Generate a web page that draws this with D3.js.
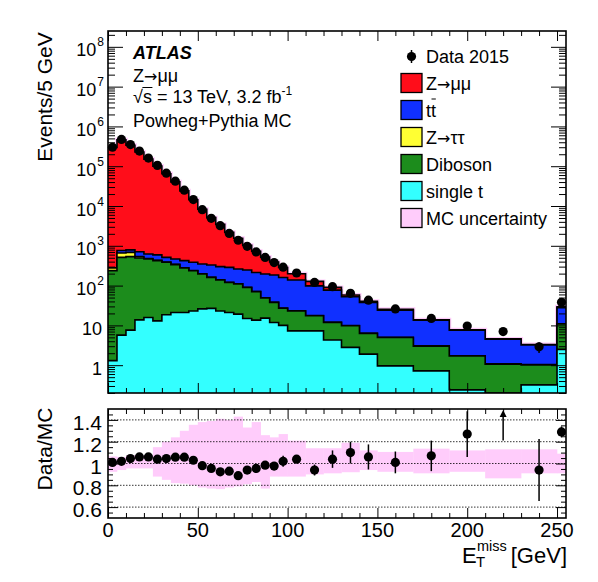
<!DOCTYPE html>
<html>
<head>
<meta charset="utf-8">
<script src="https://cdn.jsdelivr.net/npm/d3@7"></script>
<style>
  body { margin: 0; background: #fff; }
  text { font-family: "Liberation Sans", Arial, Helvetica, sans-serif; fill: #000; }
  .arrow { font-family: "DejaVu Sans", sans-serif; }
</style>
</head>
<body>
<svg id="chart" width="598" height="582"></svg>
<script>
// Bin edges (GeV), last bin is the overflow
const binEdges = [0,5,10,15,20,25,30,35,40,45,50,55,60,65,70,75,80,85,90,95,100,110,120,130,140,150,170,190,210,230,250,255];

// Events / 5 GeV
const dataCounts = [300000, 470000, 350000, 240000, 160000, 105000, 67000, 42000, 25000, 14500, 8100, 4900, 3200, 2050, 1380, 970, 700, 510, 380, 290, 207, 120, 94, 64, 43, 26, 15, 9.6, 7.0, 2.9, 38];
const zmumu = [296700, 460000, 335000, 226000, 150000, 100000, 64000, 40000, 23600, 14000, 7950, 4770, 3150, 1910, 1290, 783, 515, 325, 205, 125, 61, 29, 13, 5.5, 2.8, 1.2, 0.3, 0.1, 0.1, 0.05, 1.5];
const ttbar = [3, 100, 106, 175, 149, 158, 120, 124, 143, 145, 153, 167, 161, 166, 151, 156, 143, 146, 147, 133, 115, 81, 65, 42.6, 31.4, 19.2, 10.5, 5.9, 3.4, 2.2, 17.1];
const ztautau = [41, 147, 149, 40, 10, 8, 6, 5, 4, 3, 2, 1.5, 1, 1, 0.8, 0.6, 0.5, 0.4, 0.3, 0.2, 0.2, 0.1, 0.1, 0.1, 0.05, 0.05, 0.05, 0.02, 0.02, 0.02, 0.1];
const diboson = [236, 507, 527, 481, 450, 411, 367, 315, 256, 214, 169, 134, 115, 99, 91, 75, 57, 34, 26, 17, 15.7, 10.2, 7.6, 7.0, 4.4, 4.0, 2.3, 1.46, 0.96, 0.70, 8.3];
const singleTop = [1.3, 5.7, 7.6, 13.8, 15.8, 13, 18.5, 21, 21, 23, 26, 26.7, 23, 21, 19.2, 14.9, 13.6, 15.2, 11.8, 10, 7.3, 7.3, 4.3, 2.8, 1.9, 0.96, 0.72, 0.24, 0.1, 0.32, 2.5];

// Data/MC ratio panel
const ratio = [1.01, 1.02, 1.045, 1.06, 1.06, 1.04, 1.045, 1.058, 1.058, 1.03, 0.98, 0.955, 0.924, 0.93, 0.888, 0.94, 0.955, 0.985, 0.976, 1.02, 1.04, 0.94, 1.04, 1.10, 1.06, 1.01, 1.07, 1.27, 1.56, 0.94, 1.29];
const ratioErr = [0.003, 0.003, 0.003, 0.004, 0.005, 0.006, 0.007, 0.009, 0.011, 0.014, 0.018, 0.02, 0.025, 0.03, 0.035, 0.035, 0.04, 0.02, 0.03, 0.05, 0.025, 0.05, 0.08, 0.10, 0.115, 0.10, 0.14, 0.21, 0.35, 0.285, 0.05];
const bandHigh = [1.065, 1.06, 1.076, 1.076, 1.076, 1.15, 1.2, 1.24, 1.3, 1.355, 1.38, 1.39, 1.41, 1.40, 1.43, 1.33, 1.38, 1.26, 1.24, 1.27, 1.21, 1.14, 1.14, 1.19, 1.12, 1.106, 1.136, 1.12, 1.13, 1.13, 1.09];
const bandLow = [0.924, 0.94, 0.955, 0.955, 0.955, 0.88, 0.85, 0.82, 0.815, 0.8, 0.78, 0.77, 0.765, 0.78, 0.79, 0.81, 0.83, 0.77, 0.88, 0.88, 0.88, 0.90, 0.91, 0.92, 0.94, 0.924, 0.91, 0.924, 0.864, 0.91, 0.91];

// Axis ticks
const yTickPowers = [0, 1, 2, 3, 4, 5, 6, 7, 8];
const ratioTicks = [0.6, 0.8, 1, 1.2, 1.4];
const xTicks = [0, 50, 100, 150, 200, 250];

// legend entries: [before arrow, arrow?, after]
const legendItems = [
  { parts: ["Z", "\u2192", "\u03bc\u03bc"], color: "#ff0d1a" },
  { parts: ["tt"], color: "#1030ff", bar: true },
  { parts: ["Z", "\u2192", "\u03c4\u03c4"], color: "#ffff33" },
  { parts: ["Diboson"], color: "#1c8c1c" },
  { parts: ["single t"], color: "#33ffff" },
  { parts: ["MC uncertainty"], color: "#ffccfb" }
];

const svg = d3.select("#chart");
const mainL = 108, mainR = 566, mainT = 31, mainB = 393;
const ratT = 409, ratB = 518;
const pink = "#ffccfb";

const x = d3.scaleLinear().domain([0, 255]).range([mainL, mainR]);
const y = d3.scaleLog().domain([0.2, 2.5e8]).range([mainB, mainT]);
const yr = d3.scaleLinear().domain([0.5, 1.5]).range([ratB, ratT]);
const yc = v => y(Math.max(v, 0.2));

const nBins = dataCounts.length;
const centers = d3.range(nBins).map(i => (binEdges[i] + binEdges[i + 1]) / 2);

// clip paths
const defs = svg.append("defs");
defs.append("clipPath").attr("id", "clipMain").append("rect")
  .attr("x", mainL).attr("y", mainT).attr("width", mainR - mainL).attr("height", mainB - mainT);
defs.append("clipPath").attr("id", "clipRatio").append("rect")
  .attr("x", mainL).attr("y", ratT).attr("width", mainR - mainL).attr("height", ratB - ratT);

// ---------- stacked histogram ----------
const rows = d3.range(nBins).map(i => ({
  singleTop: singleTop[i], diboson: diboson[i], ztautau: ztautau[i], ttbar: ttbar[i], zmumu: zmumu[i]
}));
const keys = ["singleTop", "diboson", "ztautau", "ttbar", "zmumu"];
const colors = { singleTop: "#33ffff", diboson: "#1c8c1c", ztautau: "#ffff33", ttbar: "#1030ff", zmumu: "#ff0d1a" };
const stacked = d3.stack().keys(keys)(rows);

const stepPts = tops => tops.map((v, i) => [binEdges[i], v]).concat([[binEdges[nBins], tops[nBins - 1]]]);
const area = d3.area().x(d => x(d[0])).y0(mainB).y1(d => yc(d[1])).curve(d3.curveStepAfter);
const line = d3.line().x(d => x(d[0])).y(d => yc(d[1])).curve(d3.curveStepAfter);

const gMain = svg.append("g").attr("clip-path", "url(#clipMain)");
const totalTops = stacked[stacked.length - 1].map(d => d[1]);

// MC uncertainty fringe around the total
gMain.append("path").attr("d", line(stepPts(totalTops)))
  .attr("fill", "none").attr("stroke", pink).attr("stroke-width", 4);

stacked.slice().reverse().forEach(s => {
  const tops = s.map(d => d[1]);
  gMain.append("path").attr("d", area(stepPts(tops))).attr("fill", colors[s.key]);
  gMain.append("path").attr("d", line(stepPts(tops)))
    .attr("fill", "none").attr("stroke", "#000").attr("stroke-width", 1.6);
});

// data points
const gData = svg.append("g");
dataCounts.forEach((v, i) => {
  const rel = ratioErr[i] / ratio[i];
  gData.append("line")
    .attr("x1", x(centers[i])).attr("x2", x(centers[i]))
    .attr("y1", y(v * (1 + rel))).attr("y2", y(Math.max(v * (1 - rel), 0.2)))
    .attr("stroke", "#000").attr("stroke-width", 1.5);
  gData.append("circle").attr("cx", x(centers[i])).attr("cy", y(v)).attr("r", 4.6).attr("fill", "#000");
});

// ---------- ratio panel ----------
const gRat = svg.append("g").attr("clip-path", "url(#clipRatio)");
d3.range(nBins).forEach(i => {
  gRat.append("rect")
    .attr("x", x(binEdges[i])).attr("width", x(binEdges[i + 1]) - x(binEdges[i]) + 0.3)
    .attr("y", yr(bandHigh[i])).attr("height", yr(bandLow[i]) - yr(bandHigh[i]))
    .attr("fill", pink);
});
ratioTicks.forEach(t => {
  gRat.append("line").attr("x1", mainL).attr("x2", mainR).attr("y1", yr(t)).attr("y2", yr(t))
    .attr("stroke", "#000").attr("stroke-width", 0.8).attr("stroke-dasharray", "1.5,1.5");
});
ratio.forEach((r, i) => {
  const cx = x(centers[i]);
  if (r > 1.5) {
    const tip = yr(1.5) + 1;
    gRat.append("line").attr("x1", cx).attr("x2", cx).attr("y1", yr(r - ratioErr[i])).attr("y2", tip + 5)
      .attr("stroke", "#000").attr("stroke-width", 1.5);
    gRat.append("path").attr("d", `M${cx},${tip}L${cx - 3.5},${tip + 7}L${cx + 3.5},${tip + 7}Z`).attr("fill", "#000");
    return;
  }
  gRat.append("line").attr("x1", cx).attr("x2", cx)
    .attr("y1", yr(r + ratioErr[i])).attr("y2", yr(r - ratioErr[i]))
    .attr("stroke", "#000").attr("stroke-width", 1.5);
  gRat.append("circle").attr("cx", cx).attr("cy", yr(r)).attr("r", 4.6).attr("fill", "#000");
});

// ---------- axes and frames ----------
const minorLog = [];
for (let d = -1; d <= 8; d++) for (let m = 2; m <= 9; m++) {
  const v = m * Math.pow(10, d);
  if (v >= 0.2 && v <= 2.5e8) minorLog.push(v);
}
const majorLog = yTickPowers.map(p => Math.pow(10, p));
const xMinor = d3.range(0, 256, 10).filter(v => v % 50 !== 0);
const rMinor = d3.range(0.55, 1.5, 0.05).filter(v => Math.abs(v * 5 - Math.round(v * 5)) > 1e-6);

function ticks(axisFn, scale, vals, len, tx, ty) {
  svg.append("g").attr("transform", `translate(${tx},${ty})`)
    .call(axisFn(scale).tickValues(vals).tickSize(-len).tickFormat(""))
    .call(g => g.select(".domain").remove())
    .call(g => g.selectAll("line").attr("stroke", "#000").attr("stroke-width", 1));
}

// main panel ticks
ticks(d3.axisLeft, y, majorLog, 15, mainL, 0);
ticks(d3.axisLeft, y, minorLog, 7, mainL, 0);
ticks(d3.axisRight, y, majorLog, 15, mainR, 0);
ticks(d3.axisRight, y, minorLog, 7, mainR, 0);
ticks(d3.axisBottom, x, xTicks, 10, 0, mainB);
ticks(d3.axisBottom, x, xMinor, 5, 0, mainB);
ticks(d3.axisTop, x, xTicks, 10, 0, mainT);
ticks(d3.axisTop, x, xMinor, 5, 0, mainT);
// ratio panel ticks
ticks(d3.axisLeft, yr, ratioTicks, 10, mainL, 0);
ticks(d3.axisLeft, yr, rMinor, 5, mainL, 0);
ticks(d3.axisRight, yr, ratioTicks, 10, mainR, 0);
ticks(d3.axisRight, yr, rMinor, 5, mainR, 0);
ticks(d3.axisBottom, x, xTicks, 10, 0, ratB);
ticks(d3.axisBottom, x, xMinor, 5, 0, ratB);
ticks(d3.axisTop, x, xTicks, 10, 0, ratT);
ticks(d3.axisTop, x, xMinor, 5, 0, ratT);

svg.append("rect").attr("x", mainL).attr("y", mainT).attr("width", mainR - mainL).attr("height", mainB - mainT)
  .attr("fill", "none").attr("stroke", "#000").attr("stroke-width", 1.6);
svg.append("rect").attr("x", mainL).attr("y", ratT).attr("width", mainR - mainL).attr("height", ratB - ratT)
  .attr("fill", "none").attr("stroke", "#000").attr("stroke-width", 1.6);

// main y labels
yTickPowers.forEach(p => {
  const t = svg.append("text").attr("text-anchor", "end").attr("font-size", 18)
    .attr("x", p < 2 ? 102 : 104).attr("y", y(Math.pow(10, p)) + 9.5);
  if (p === 0) t.text("1");
  else if (p === 1) t.text("10");
  else {
    t.append("tspan").text("10");
    t.append("tspan").attr("font-size", 12).attr("dx", 1).attr("dy", -10).text(p);
  }
});

// ratio y labels
ratioTicks.forEach(t => {
  svg.append("text").attr("text-anchor", "end").attr("font-size", 21)
    .attr("x", 102).attr("y", yr(t) + 10).text(t);
});

// x labels
xTicks.forEach(t => {
  svg.append("text").attr("text-anchor", "middle").attr("font-size", 20)
    .attr("x", x(t)).attr("y", 537).text(t);
});

// axis titles
svg.append("text").attr("font-size", 21).attr("text-anchor", "middle")
  .attr("transform", `translate(52,97) rotate(-90)`).text("Events/5 GeV");
svg.append("text").attr("font-size", 21).attr("text-anchor", "middle")
  .attr("transform", `translate(52,449) rotate(-90)`).text("Data/MC");
svg.append("text").attr("font-size", 22).attr("x", 462).attr("y", 563).text("E");
svg.append("text").attr("font-size", 15).attr("x", 476).attr("y", 567).text("T");
svg.append("text").attr("font-size", 14.5).attr("x", 477).attr("y", 550.5).text("miss");
svg.append("text").attr("font-size", 22).attr("text-anchor", "end").attr("x", 567).attr("y", 563).text("[GeV]");

// text with a wide arrow glyph
function arrowText(xp, yp, parts) {
  const t = svg.append("text").attr("x", xp).attr("y", yp).attr("font-size", 18);
  parts.forEach((p, k) => {
    const s = t.append("tspan").text(p);
    if (p === "\u2192") s.attr("class", "arrow").attr("font-size", 16);
  });
  return t;
}

// ATLAS labels
svg.append("text").attr("x", 133).attr("y", 59).attr("font-size", 18)
  .attr("font-weight", "bold").attr("font-style", "italic").text("ATLAS");
arrowText(133, 82, ["Z", "\u2192", "\u03bc\u03bc"]);
const lum = svg.append("text").attr("x", 133).attr("y", 103).attr("font-size", 18);
const lumMain = lum.append("tspan").text("\u221as = 13 TeV, 3.2 fb");
lum.append("tspan").attr("font-size", 12).attr("dy", -8).text("-1");
const rootW = lumMain.node().getSubStringLength(0, 1);
const sW = lumMain.node().getSubStringLength(1, 1);
svg.append("line").attr("x1", 133 + rootW - 0.5).attr("x2", 133 + rootW + sW + 0.5)
  .attr("y1", 103 - 15.5).attr("y2", 103 - 15.5).attr("stroke", "#000").attr("stroke-width", 1);
svg.append("text").attr("x", 133).attr("y", 127).attr("font-size", 18).text("Powheg+Pythia MC");

// legend
const legX = 401, legText = 426;
svg.append("line").attr("x1", legX + 10.5).attr("x2", legX + 10.5).attr("y1", 50).attr("y2", 63)
  .attr("stroke", "#000").attr("stroke-width", 1.5);
svg.append("circle").attr("cx", legX + 10.5).attr("cy", 56.5).attr("r", 4.6).attr("fill", "#000");
svg.append("text").attr("x", legText).attr("y", 62.5).attr("font-size", 18).text("Data 2015");
legendItems.forEach((d, i) => {
  const cy = 83 + i * 27;
  svg.append("rect").attr("x", legX).attr("y", cy - 9.5).attr("width", 21).attr("height", 19)
    .attr("fill", d.color).attr("stroke", "#000").attr("stroke-width", 1.3);
  const t = arrowText(legText, cy + 6.5, d.parts);
  if (d.bar) {
    const w = t.node().getComputedTextLength();
    svg.append("line").attr("x1", legText + w / 2 + 0.5).attr("x2", legText + w - 0.2)
      .attr("y1", cy - 11).attr("y2", cy - 11).attr("stroke", "#000").attr("stroke-width", 1);
  }
});
</script>
</body>
</html>
